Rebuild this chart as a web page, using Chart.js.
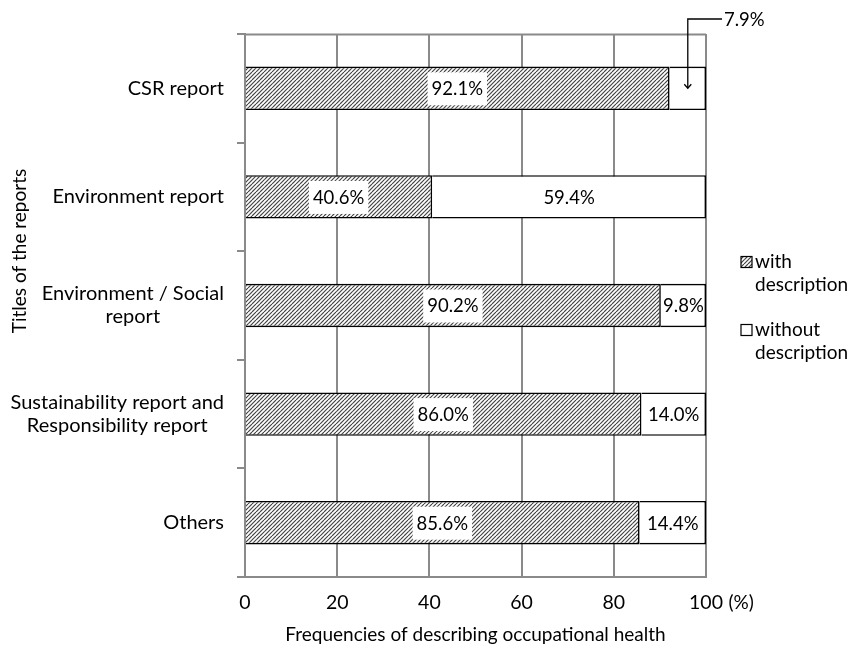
<!DOCTYPE html>
<html>
<head>
<meta charset="utf-8">
<script src="https://cdn.jsdelivr.net/npm/chart.js@4"></script>
<style>
html,body{margin:0;padding:0;background:#fff;}
canvas{display:block;}
</style>
</head>
<body>
<canvas id="c" width="852" height="648"></canvas>
<script>
const categories = ['CSR report', 'Environment report', ['Environment / Social', 'report'], ['Sustainability report and', 'Responsibility report'], 'Others'];
const withDesc = [92.1, 40.6, 90.2, 86.0, 85.6];
const withoutDesc = [7.9, 59.4, 9.8, 14.0, 14.4];
const xTicks = [0, 20, 40, 60, 80, 100];
const seriesNames = [['with', 'description'], ['without', 'description']];
const xTitle = 'Frequencies of describing occupational health';
const yTitle = 'Titles of the reports';
const unitLabel = '(%)';

const FONT = 'Lato, "Open Sans", sans-serif';

const ctx0 = document.getElementById('c').getContext('2d');
const hatch = (function(){
  const t = document.createElement('canvas');
  t.width = 8; t.height = 8;
  const g = t.getContext('2d');
  g.fillStyle = '#fff';
  g.fillRect(0, 0, 8, 8);
  g.strokeStyle = '#444';
  g.lineWidth = 1.2;
  for (let x = -8; x <= 8; x += 4) {
    g.beginPath(); g.moveTo(x, 8); g.lineTo(x + 8, 0); g.stroke();
  }
  return ctx0.createPattern(t, 'repeat');
})();

const extras = {
  id: 'extras',
  afterDraw(chart) {
    const c = chart.ctx;
    const area = chart.chartArea;
    const xs = chart.scales.x, ys = chart.scales.y;
    c.save();
    // top border
    c.strokeStyle = '#8a8a8a';
    c.lineWidth = 2;
    c.beginPath(); c.moveTo(area.left, area.top + 0.5); c.lineTo(area.right, area.top + 0.5); c.stroke();

    c.fillStyle = '#000';
    c.textBaseline = 'middle';

    // category labels
    c.font = '20px ' + FONT;
    categories.forEach((lab, i) => {
      const y = ys.getPixelForValue(i);
      const lines = Array.isArray(lab) ? lab : [lab];
      const widths = lines.map(l => c.measureText(l).width);
      const maxW = Math.max(...widths);
      const right = 224;
      const cx = right - maxW / 2;
      const lh = 23;
      lines.forEach((l, k) => {
        c.textAlign = 'center';
        c.fillText(l, cx, y + (k - (lines.length - 1) / 2) * lh);
      });
    });

    // y title
    c.font = '19px ' + FONT;
    c.save();
    c.translate(20, 251);
    c.rotate(-Math.PI / 2);
    c.textAlign = 'center';
    c.fillText(yTitle, 0, 0);
    c.restore();

    // x unit
    c.textAlign = 'left';
    const px100 = xs.getPixelForValue(100);
    const w100 = c.measureText('100').width;
    c.fillText(unitLabel, px100 + w100 / 2 + 6, 603);

    // x title
    c.textAlign = 'center';
    c.fillText(xTitle, (area.left + area.right) / 2, 635);

    // data labels
    c.font = '18.5px ' + FONT;
    const drawBoxLabel = (txt, cx, cy, box) => {
      const w = c.measureText(txt).width;
      if (box) {
        c.fillStyle = '#fff';
        c.fillRect(cx - w / 2 - 4, cy - 16, w + 8, 33);
      }
      c.fillStyle = '#000';
      c.textAlign = 'center';
      c.fillText(txt, cx, cy + 1);
    };
    categories.forEach((lab, i) => {
      const y = ys.getPixelForValue(i);
      const a = withDesc[i], b = withoutDesc[i];
      drawBoxLabel(a.toFixed(1) + '%', xs.getPixelForValue(a / 2), y, true);
      if (i === 0) {
        // callout
        const sx = xs.getPixelForValue(a + b / 2);
        const ty = 19;
        c.strokeStyle = '#000';
        c.lineWidth = 1.3;
        c.beginPath();
        c.moveTo(722, ty);
        c.lineTo(sx, ty);
        c.lineTo(sx, y);
        c.stroke();
        c.beginPath();
        c.moveTo(sx - 3.5, y - 4);
        c.lineTo(sx, y);
        c.lineTo(sx + 3.5, y - 4);
        c.stroke();
        c.textAlign = 'left';
        c.fillStyle = '#000';
        c.fillText(b.toFixed(1) + '%', 724, ty + 1);
      } else {
        drawBoxLabel(b.toFixed(1) + '%', xs.getPixelForValue(a + b / 2), y, false);
      }
    });

    // legend
    c.font = '19px ' + FONT;
    const legY = [262, 330];
    const fills = [hatch, '#fff'];
    legY.forEach((ly, k) => {
      c.fillStyle = fills[k];
      c.fillRect(741, ly - 5.5, 11, 11);
      c.strokeStyle = '#000';
      c.lineWidth = 1.2;
      c.strokeRect(741, ly - 5.5, 11, 11);
      c.fillStyle = '#000';
      c.textAlign = 'left';
      c.fillText(seriesNames[k][0], 755, ly);
      c.fillText(seriesNames[k][1], 755, ly + 23);
    });
    c.restore();
  }
};

new Chart(ctx0, {
  type: 'bar',
  data: {
    labels: categories,
    datasets: [
      { label: 'with description', data: withDesc, backgroundColor: hatch, borderColor: '#000', borderWidth: 1.6 },
      { label: 'without description', data: withoutDesc, backgroundColor: '#fff', borderColor: '#000', borderWidth: 1.6 }
    ]
  },
  options: {
    indexAxis: 'y',
    responsive: false,
    animation: false,
    devicePixelRatio: 1,
    categoryPercentage: 1,
    barPercentage: 0.4,
    layout: { padding: { top: 34, right: 146, left: 0, bottom: 0 } },
    plugins: { legend: { display: false }, tooltip: { enabled: false } },
    scales: {
      x: {
        stacked: true,
        min: 0, max: 100,
        afterBuildTicks(s) { s.ticks = xTicks.map(v => ({ value: v })); },
        afterFit(s) { s.height = 71; },
        grid: { color: '#8a8a8a', lineWidth: 2, drawTicks: false },
        border: { color: '#8a8a8a', width: 2 },
        ticks: { color: '#000', font: { family: FONT, size: 19.5 }, padding: 14, maxRotation: 0 }
      },
      y: {
        stacked: true,
        afterFit(s) { s.width = 245; },
        grid: { offset: true, drawOnChartArea: false, drawTicks: true, tickLength: 8, color: '#8a8a8a', lineWidth: 2 },
        border: { color: '#8a8a8a', width: 2 },
        ticks: { color: 'rgba(0,0,0,0)', font: { family: FONT, size: 18 } }
      }
    }
  },
  plugins: [extras]
});
</script>
</body>
</html>
